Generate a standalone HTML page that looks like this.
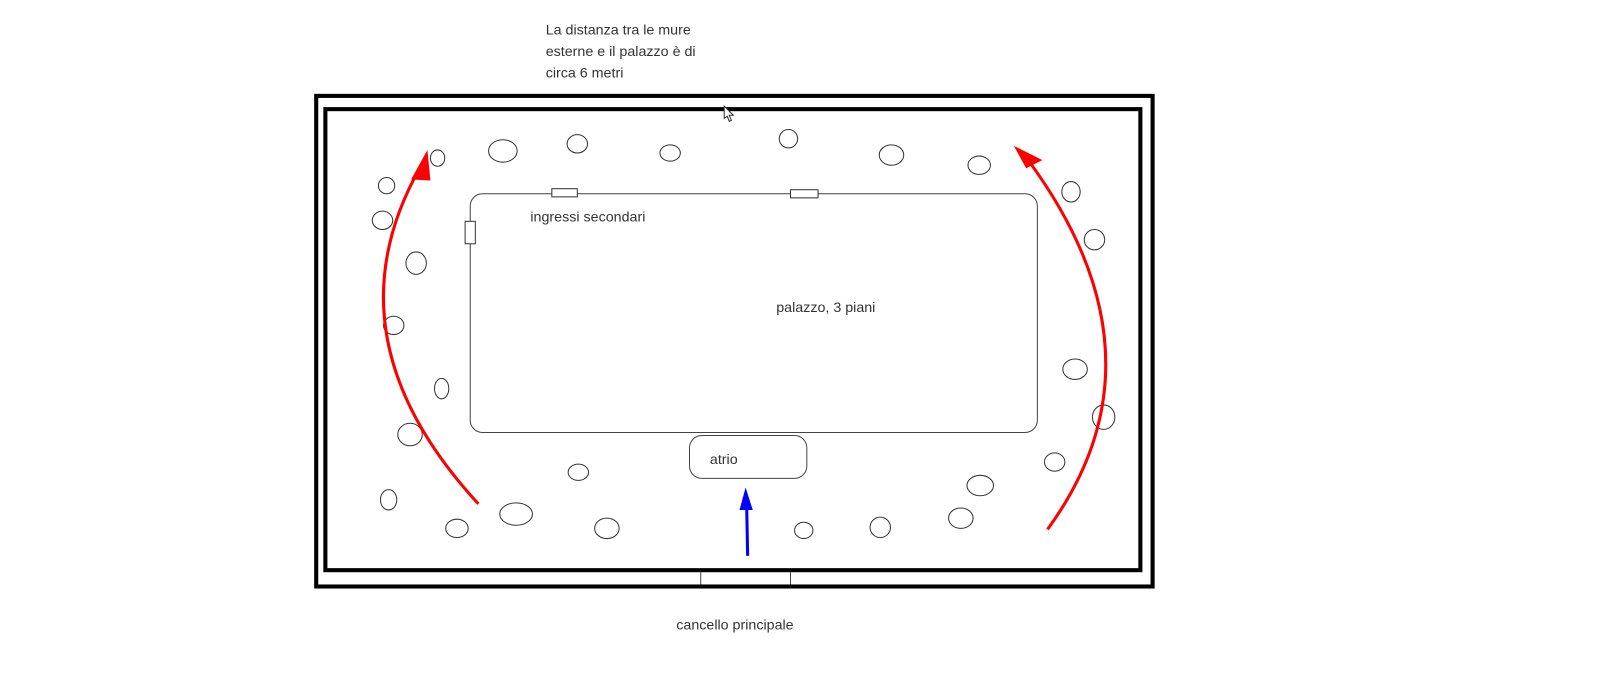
<!DOCTYPE html>
<html><head><meta charset="utf-8"><style>
html,body{margin:0;padding:0;background:#fff;}
svg{display:block;}
text{font-family:"Liberation Sans",sans-serif;font-size:14px;fill:#333;}
</style></head><body>
<svg width="1600" height="691" viewBox="0 0 1600 691" xmlns="http://www.w3.org/2000/svg">
<g transform="scale(1.02)">
<text x="535" y="34">La distanza tra le mure</text>
<text x="535" y="55">esterne e il palazzo è di</text>
<text x="535" y="76">circa 6 metri</text>
<rect x="310" y="94" width="820" height="481" fill="none" stroke="#000" stroke-width="4"/>
<rect x="319" y="107" width="799" height="452" fill="none" stroke="#000" stroke-width="4"/>
<line x1="687" y1="561" x2="687" y2="573" stroke="#444" stroke-width="1"/>
<line x1="775" y1="561" x2="775" y2="573" stroke="#444" stroke-width="1"/>
<text x="663" y="617">cancello principale</text>
<rect x="461" y="190" width="556" height="234" rx="12" fill="none" stroke="#444" stroke-width="1"/>
<rect x="676" y="427" width="115" height="42" rx="12" fill="#fff" stroke="#444" stroke-width="1"/>
<rect x="541" y="185" width="25" height="8" fill="#fff" stroke="#333" stroke-width="1"/>
<rect x="775" y="186" width="27" height="8" fill="#fff" stroke="#333" stroke-width="1"/>
<rect x="456" y="217" width="10" height="22" fill="#fff" stroke="#333" stroke-width="1"/>
<text x="520" y="217">ingressi secondari</text>
<text x="761" y="306">palazzo, 3 piani</text>
<text x="696" y="455">atrio</text>
<g fill="none" stroke="#333" stroke-width="1">
<ellipse cx="429" cy="155" rx="7" ry="8"/><ellipse cx="493" cy="148" rx="14" ry="11"/><ellipse cx="566" cy="141" rx="10" ry="9"/><ellipse cx="657" cy="150" rx="10" ry="8"/><ellipse cx="773" cy="136" rx="9" ry="9"/><ellipse cx="874" cy="152" rx="12" ry="10"/><ellipse cx="960" cy="162" rx="11" ry="9"/>
<ellipse cx="379" cy="182" rx="8" ry="8"/><ellipse cx="375" cy="216" rx="10" ry="9"/><ellipse cx="408" cy="258" rx="10" ry="11"/><ellipse cx="386" cy="319" rx="10" ry="9"/><ellipse cx="433" cy="381" rx="7" ry="10"/><ellipse cx="402" cy="426" rx="12" ry="11"/><ellipse cx="381" cy="490" rx="8" ry="10"/><ellipse cx="448" cy="518" rx="11" ry="9"/><ellipse cx="506" cy="504" rx="16" ry="11"/><ellipse cx="595" cy="518" rx="12" ry="10"/><ellipse cx="567" cy="463" rx="10" ry="8"/>
<ellipse cx="1050" cy="188" rx="9" ry="10"/><ellipse cx="1073" cy="235" rx="10" ry="10"/><ellipse cx="1054" cy="362" rx="12" ry="10"/><ellipse cx="1082" cy="409" rx="11" ry="12"/><ellipse cx="1034" cy="453" rx="10" ry="9"/><ellipse cx="961" cy="476" rx="13" ry="10"/><ellipse cx="942" cy="508" rx="12" ry="10"/><ellipse cx="863" cy="517" rx="10" ry="10"/><ellipse cx="788" cy="520" rx="9" ry="8"/>
</g>
<path d="M469,494 Q318,330 412,164" fill="none" stroke="#f00" stroke-width="3"/>
<path d="M403,176 L419,147 L422,177 Z" fill="#f00"/>
<path d="M1027,519 Q1150,350 1008,157" fill="none" stroke="#f00" stroke-width="3"/>
<path d="M994,143 L1022,157 L1006,165 Z" fill="#f00"/>
<line x1="733" y1="545" x2="732" y2="495" stroke="#00f" stroke-width="3"/>
<path d="M725,500 L731,478 L738,500 Z" fill="#00f"/>
<path d="M710,104 l0,12 l3,-2 l2,5 l2,-1 l-2,-5 l4,0 z" fill="#fff" stroke="#333" stroke-width="1"/>
</g>
</svg>
</body></html>
